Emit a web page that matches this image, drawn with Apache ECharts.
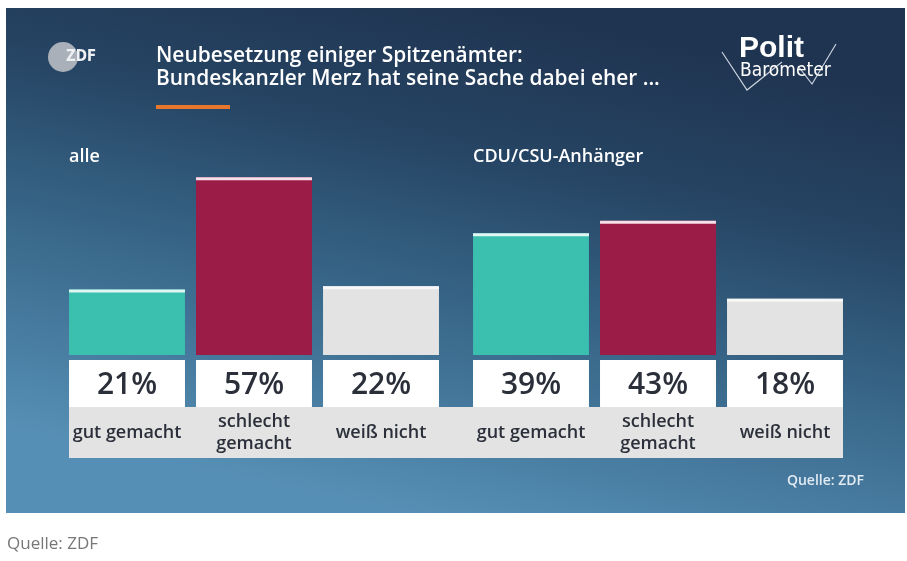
<!DOCTYPE html>
<html>
<head>
<meta charset="utf-8">
<script src="https://cdn.jsdelivr.net/npm/echarts@6/dist/echarts.min.js"></script>
<style>
html,body{margin:0;padding:0;background:#fff;}
#c{width:907px;height:561px;}
</style>
</head>
<body>
<div id="c"></div>
<script>
// ---- data ----
const categories = ['gut gemacht', 'schlecht\ngemacht', 'weiß nicht'];
const valuesAlle = [21, 57, 22];
const valuesCDU = [39, 43, 18];
const groupLabels = ['alle', 'CDU/CSU-Anhänger'];
const titleLines = ['Neubesetzung einiger Spitzenämter:', 'Bundeskanzler Merz hat seine Sache dabei eher ...'];
const sourceText = 'Quelle: ZDF';

// ---- styles ----
const barColors = ['#3bbfae', '#9b1c46', '#e3e3e3'];
const capColors = ['#dff6f3', '#f6e1ea', '#f7f7f7'];
const textFont = '"Open Sans", "Noto Sans", sans-serif';

const chart = echarts.init(document.getElementById('c'), null, {renderer: 'canvas'});

function makeRender(values) {
  return function (params, api) {
    const i = api.value(0);
    const v = api.value(1);
    const top = api.coord([i, v]);
    const base = api.coord([i, 0]);
    const w = api.size([1, 0])[0] * 0.913;
    const x = top[0] - w / 2;
    return {
      type: 'group',
      children: [
        {type: 'rect', shape: {x: x, y: top[1], width: w, height: base[1] - top[1]}, style: {fill: barColors[i]}},
        {type: 'rect', shape: {x: x, y: top[1], width: w, height: 3}, style: {fill: capColors[i]}},
        {type: 'rect', shape: {x: x, y: base[1] + 5, width: w, height: 47}, style: {fill: '#ffffff'}},
        {type: 'text', z2: 10, style: {text: v + '%', x: top[0], y: base[1] + 30, align: 'center', verticalAlign: 'middle',
          font: '600 30px ' + textFont, fill: '#2b2f3a'}},
        {type: 'text', z2: 10, style: {text: categories[i], x: top[0], y: base[1] + 78, align: 'center', verticalAlign: 'middle',
          font: '600 18px ' + textFont, lineHeight: 22, fill: '#2b2f3a'}}
      ]
    };
  };
}

function seriesData(values) {
  return values.map((v, i) => [i, v]);
}

const option = {
  backgroundColor: '#ffffff',
  animation: false,
  grid: [
    {left: 63.5, width: 381, top: 43, height: 312},
    {left: 467.5, width: 381, top: 43, height: 312}
  ],
  xAxis: [
    {type: 'category', gridIndex: 0, data: categories, show: false},
    {type: 'category', gridIndex: 1, data: categories, show: false}
  ],
  yAxis: [
    {type: 'value', gridIndex: 0, min: 0, max: 100, show: false},
    {type: 'value', gridIndex: 1, min: 0, max: 100, show: false}
  ],
  graphic: [
    {type: 'rect', z: -10, shape: {x: 6, y: 8, width: 899, height: 505},
      style: {fill: new echarts.graphic.LinearGradient(0.56, 0, 0.44, 1, [
        {offset: 0, color: '#1f3451'},
        {offset: 0.28, color: '#264463'},
        {offset: 0.6, color: '#386789'},
        {offset: 1, color: '#568fb5'}
      ])}},
    // label band
    {type: 'rect', z: -5, shape: {x: 69, y: 407, width: 774, height: 51}, style: {fill: '#e3e3e3'}},
    // title
    {type: 'text', left: 156, top: 45, style: {text: titleLines[0] + '\n' + titleLines[1], font: '600 20.9px ' + textFont, lineHeight: 23, fill: '#ffffff'}},
    {type: 'rect', shape: {x: 156, y: 105, width: 74, height: 4}, style: {fill: '#e8772e'}},
    // ZDF logo
    {type: 'circle', shape: {cx: 63, cy: 57, r: 15}, style: {fill: '#a9b0b9'}},
    {type: 'text', left: 66, top: 50, style: {text: 'ZDF', font: 'bold 15px "DejaVu Sans Condensed", sans-serif', fill: '#eef0f3'}},
    // Polit Barometer logo
    {type: 'polyline', shape: {points: [[722, 52], [747, 90], [782, 62]]}, style: {stroke: '#c9d2dc', lineWidth: 1.2, fill: null}},
    {type: 'polyline', shape: {points: [[798, 66], [812, 84], [836, 44]]}, style: {stroke: '#c9d2dc', lineWidth: 1.2, fill: null}},
    {type: 'text', left: 739, top: 34, style: {text: 'Polit', font: 'bold 30px "Liberation Sans", sans-serif', fill: '#ffffff'}},
    {type: 'text', left: 740, top: 62, style: {text: 'Barometer', font: '19px "DejaVu Sans Condensed", "Liberation Sans Narrow", sans-serif', fill: '#ffffff'}},
    // group labels
    {type: 'text', left: 69, top: 148, style: {text: groupLabels[0], font: '600 18px ' + textFont, fill: '#ffffff'}},
    {type: 'text', left: 473, top: 148, style: {text: groupLabels[1], font: '600 18px ' + textFont, fill: '#ffffff'}},
    // source inside
    {type: 'text', right: 43, top: 474, style: {text: sourceText, font: '600 14px ' + textFont, fill: '#e1ebf3'}},
    // source below
    {type: 'text', left: 7, top: 536, style: {text: sourceText, font: '17px ' + textFont, fill: '#777777'}}
  ],
  series: [
    {type: 'custom', xAxisIndex: 0, yAxisIndex: 0, renderItem: makeRender(valuesAlle), data: seriesData(valuesAlle)},
    {type: 'custom', xAxisIndex: 1, yAxisIndex: 1, renderItem: makeRender(valuesCDU), data: seriesData(valuesCDU)}
  ]
};
chart.setOption(option);
</script>
</body>
</html>
